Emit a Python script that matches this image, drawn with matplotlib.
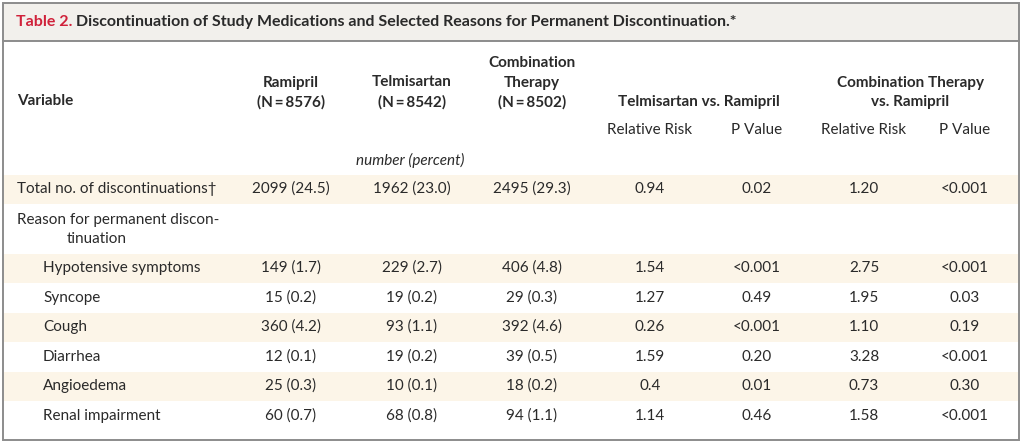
import matplotlib
matplotlib.use('Agg')
import matplotlib.pyplot as plt
from matplotlib.patches import Rectangle

plt.rcParams['font.family'] = ['Lato', 'DejaVu Sans']

# ---- table content ----
title_tag = 'Table 2.'
title_text = 'Discontinuation of Study Medications and Selected Reasons for Permanent Discontinuation.*'

variables = ['Total no. of discontinuations\u2020', 'Hypotensive symptoms', 'Syncope', 'Cough',
             'Diarrhea', 'Angioedema', 'Renal impairment']
ramipril = ['2099 (24.5)', '149 (1.7)', '15 (0.2)', '360 (4.2)', '12 (0.1)', '25 (0.3)', '60 (0.7)']
telmisartan = ['1962 (23.0)', '229 (2.7)', '19 (0.2)', '93 (1.1)', '19 (0.2)', '10 (0.1)', '68 (0.8)']
combination = ['2495 (29.3)', '406 (4.8)', '29 (0.3)', '392 (4.6)', '39 (0.5)', '18 (0.2)', '94 (1.1)']
rr_telmi = ['0.94', '1.54', '1.27', '0.26', '1.59', '0.4', '1.14']
p_telmi = ['0.02', '<0.001', '0.49', '<0.001', '0.20', '0.01', '0.46']
rr_comb = ['1.20', '2.75', '1.95', '1.10', '3.28', '0.73', '1.58']
p_comb = ['<0.001', '<0.001', '0.03', '0.19', '<0.001', '0.30', '<0.001']
sub_headers = ['Relative Risk', 'P Value', 'Relative Risk', 'P Value']

# ---- layout (pixels) ----
W, H = 1024, 446
txt = '#2a2a2a'
red = '#d0213a'
band = '#fcf5e8'
edge = '#8c8c8c'
fs = 11

col_x = [291, 412, 532, 650, 757, 864, 965]
row_y = [189, 268, 298, 327, 357, 386, 416]
striped = [0, 1, 3, 5]

fig = plt.figure(figsize=(W / 100, H / 100), dpi=100)
ax = fig.add_axes([0, 0, 1, 1])
ax.set_xlim(0, W)
ax.set_ylim(H, 0)
ax.axis('off')

# frame and title band
ax.add_patch(Rectangle((3, 3), 1016, 38, facecolor='#f2f0ec', edgecolor='none'))
for i in striped:
    ax.add_patch(Rectangle((4, row_y[i] - 14.5), 1014, 29, facecolor=band, edgecolor='none'))
ax.add_patch(Rectangle((3, 3), 1016, 437, facecolor='none', edgecolor=edge, lw=1.4))
ax.plot([3, 1019], [41, 41], color=edge, lw=1.4)

# title
t = ax.text(16, 22, title_tag + ' ', color=red, fontsize=11.5, fontweight='bold', va='center')
ax.annotate(title_text, xy=(1, 0.5), xycoords=t, xytext=(0, 0), textcoords='offset points',
            color=txt, fontsize=11.5, fontweight='bold', va='center', ha='left')


def header(x, lines, y_last, step=19.5):
    # stack header lines upward from the bottom line
    n = len(lines)
    for k, s in enumerate(lines):
        ax.text(x, y_last - (n - 1 - k) * step, s, color=txt, fontsize=fs,
                fontweight='bold', ha='center', va='center')


# column headers
ax.text(17, 101, 'Variable', color=txt, fontsize=fs, fontweight='bold', ha='left', va='center')
header(col_x[0], ['Ramipril', '(N\u2009=\u20098576)'], 102)
header(col_x[1], ['Telmisartan', '(N\u2009=\u20098542)'], 102)
header(col_x[2], ['Combination', 'Therapy', '(N\u2009=\u20098502)'], 102)
header((col_x[3] + col_x[4]) / 2 - 5, ['Telmisartan vs. Ramipril'], 102)
header((col_x[5] + col_x[6]) / 2 - 4, ['Combination Therapy', 'vs. Ramipril'], 102)
for cx, lab in zip(col_x[3:], sub_headers):
    ax.text(cx, 130, lab, color=txt, fontsize=fs, ha='center', va='center')
ax.text(col_x[1] - 2, 160, 'number (percent)', color=txt, fontsize=fs, style='italic',
        ha='center', va='center')

# group label
ax.text(17, 220, 'Reason for permanent discon-', color=txt, fontsize=fs, ha='left', va='center')
ax.text(67, 239, 'tinuation', color=txt, fontsize=fs, ha='left', va='center')

# body rows
columns = [ramipril, telmisartan, combination, rr_telmi, p_telmi, rr_comb, p_comb]
for i, name in enumerate(variables):
    y = row_y[i]
    lx = 17 if i == 0 else 43
    ax.text(lx, y, name, color=txt, fontsize=fs, ha='left', va='center')
    for cx, col in zip(col_x, columns):
        ax.text(cx, y, col[i], color=txt, fontsize=fs, ha='center', va='center')

fig.savefig('out.png', dpi=100)
